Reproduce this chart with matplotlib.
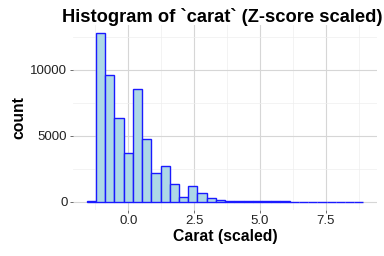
import numpy as np
import matplotlib
matplotlib.use('Agg')
import matplotlib.pyplot as plt
from matplotlib.ticker import MultipleLocator

plt.rcParams['font.family'] = ['Liberation Sans', 'DejaVu Sans']

# histogram of z-scaled carat: 30 bins, counts
BIN_START = -1.575
BIN_WIDTH = 0.35
counts = [10, 12730, 9570, 6290, 3680, 8510, 4770, 2170, 2700, 1310,
          330, 1180, 610, 230, 110, 45, 30, 12, 8, 5,
          3, 2, 1, 1, 0, 1, 0, 0, 0, 1]

edges = BIN_START + BIN_WIDTH * np.arange(len(counts) + 1)
centers = (edges[:-1] + edges[1:]) / 2

fig = plt.figure(figsize=(3.84, 2.56), dpi=100)
ax = fig.add_axes([0.190, 0.180, 0.792, 0.722])

ax.hist(centers, bins=edges, weights=counts, facecolor='#ADD8E6',
        edgecolor='#1a1aff', linewidth=1.0, zorder=3)

# ggplot-ish 5% expansion
ax.set_xlim(-2.1, 9.445)
ax.set_ylim(-636, 13366)
ax.xaxis.set_minor_locator(MultipleLocator(1.25))
ax.yaxis.set_minor_locator(MultipleLocator(2500))
ax.set_xticks([0, 2.5, 5, 7.5])
ax.set_xticklabels(['0.0', '2.5', '5.0', '7.5'])
ax.set_yticks([0, 5000, 10000])

ax.grid(which='major', color='#d6d6d6', lw=0.8, zorder=0)
ax.grid(which='minor', color='#eeeeee', lw=0.5, zorder=0)
for s in ax.spines.values():
    s.set_visible(False)
ax.tick_params(which='major', length=2.5, width=0.6, color='#555555',
               labelsize=9.5, labelcolor='#222222', pad=1.5)
ax.tick_params(which='minor', length=0)

ax.set_xlabel('Carat (scaled)', fontsize=11.3, fontweight='bold', labelpad=1)
ax.set_ylabel('count', fontsize=11.3, fontweight='bold', labelpad=3)
fig.text(0.578, 0.935, 'Histogram of `carat` (Z-score scaled)', fontsize=13.2,
         fontweight='bold', ha='center', va='center')

fig.savefig('out.png', dpi=100)
